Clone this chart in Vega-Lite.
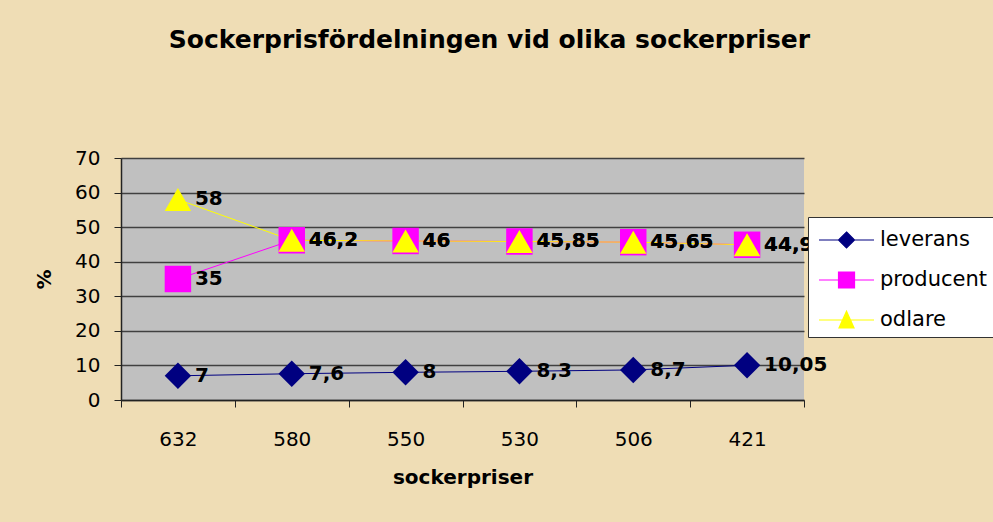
{
  "$schema": "https://vega.github.io/schema/vega-lite/v6.json",
  "autosize": "none",
  "width": 683,
  "height": 242,
  "padding": {"left": 121, "top": 158, "right": 189, "bottom": 122},
  "background": "#EFDDB5",
  "title": {
    "text": "Sockerprisfördelningen vid olika sockerpriser",
    "font": "DejaVu Sans",
    "fontSize": 25,
    "fontWeight": "bold",
    "color": "black",
    "anchor": "middle",
    "dx": 27,
    "offset": 95
  },
  "config": {
    "locale": {"number": {"decimal": ",", "thousands": " ", "grouping": [3], "currency": ["", " kr"]}},
    "view": {"fill": "#C0C0C0", "stroke": null},
    "axis": {"labelFont": "DejaVu Sans", "labelFontSize": 20, "labelColor": "black", "titleFont": "DejaVu Sans", "titleFontSize": 20, "titleFontWeight": "bold", "titleColor": "black", "domainColor": "#222222", "tickColor": "#222222", "gridColor": "#404040", "gridWidth": 1.5},
    "legend": {
      "orient": "none",
      "legendX": 687,
      "legendY": 59,
      "fillColor": "white",
      "strokeColor": "#333333",
      "padding": 6,
      "labelFont": "DejaVu Sans",
      "labelFontSize": 21,
      "labelColor": "black",
      "labelOffset": 32,
      "symbolSize": 1024,
      "symbolStrokeWidth": 1.2,
      "rowPadding": 12
    }
  },
  "resolve": {"scale": {"shape": "independent"}, "legend": {"color": "independent", "shape": "independent", "fill": "independent", "stroke": "independent"}},
  "data": {
    "values": [
      {"pris": "632", "serie": "leverans", "v": 7},
      {"pris": "580", "serie": "leverans", "v": 7.6},
      {"pris": "550", "serie": "leverans", "v": 8},
      {"pris": "530", "serie": "leverans", "v": 8.3},
      {"pris": "506", "serie": "leverans", "v": 8.7},
      {"pris": "421", "serie": "leverans", "v": 10.05},
      {"pris": "632", "serie": "producent", "v": 35},
      {"pris": "580", "serie": "producent", "v": 46.2},
      {"pris": "550", "serie": "producent", "v": 46},
      {"pris": "530", "serie": "producent", "v": 45.85},
      {"pris": "506", "serie": "producent", "v": 45.65},
      {"pris": "421", "serie": "producent", "v": 44.9},
      {"pris": "632", "serie": "odlare", "v": 58},
      {"pris": "580", "serie": "odlare", "v": 46.2},
      {"pris": "550", "serie": "odlare", "v": 46},
      {"pris": "530", "serie": "odlare", "v": 45.85},
      {"pris": "506", "serie": "odlare", "v": 45.65},
      {"pris": "421", "serie": "odlare", "v": 44.9}
    ]
  },
  "encoding": {
    "x": {
      "field": "pris", "type": "nominal", "sort": null,
      "scale": {"type": "band", "paddingInner": 0, "paddingOuter": 0},
      "axis": {"title": "sockerpriser", "labelAngle": 0, "tickBand": "extent", "tickSize": 7, "labelPadding": 22, "titlePadding": 18, "grid": false, "domainWidth": 1.5}
    },
    "y": {
      "field": "v", "type": "quantitative",
      "scale": {"domain": [0, 70]},
      "axis": {"title": "%", "values": [0, 10, 20, 30, 40, 50, 60, 70], "tickSize": 7, "labelPadding": 14, "titlePadding": 20, "grid": true, "domainWidth": 1.5}
    }
  },
  "layer": [
    {
      "mark": {"type": "line", "strokeWidth": 1},
      "encoding": {
        "color": {
          "field": "serie", "type": "nominal",
          "scale": {"domain": ["leverans", "producent", "odlare"], "range": ["#000080", "#FF00FF", "#FFFF00"]},
          "legend": null
        },
        "detail": {"field": "serie"}
      }
    },
    {
      "mark": {"type": "point", "filled": true, "opacity": 1, "size": 700},
      "encoding": {
        "color": {
          "field": "serie", "type": "nominal",
          "scale": {"domain": ["leverans", "producent", "odlare"], "range": ["#000080", "#FF00FF", "#FFFF00"]},
          "legend": null
        },
        "shape": {
          "field": "serie", "type": "nominal",
          "scale": {"domain": ["leverans", "producent", "odlare"], "range": ["diamond", "square", "triangle-up"]},
          "legend": null
        }
      }
    },
    {
      "transform": [{"filter": "false"}],
      "mark": {"type": "point", "opacity": 1, "size": 1024, "strokeWidth": 1.2},
      "encoding": {
        "fill": {
          "field": "serie", "type": "nominal",
          "scale": {"domain": ["leverans", "producent", "odlare"], "range": ["#000080", "#FF00FF", "#FFFF00"]},
          "legend": {"title": null}
        },
        "stroke": {
          "field": "serie", "type": "nominal",
          "scale": {"domain": ["leverans", "producent", "odlare"], "range": ["#000080", "#FF00FF", "#FFFF00"]},
          "legend": {"title": null}
        },
        "shape": {
          "field": "serie", "type": "nominal",
          "scale": {"domain": ["leverans", "producent", "odlare"], "range": ["M-0.75,0L2.69,0M0.97,-0.5L1.47,0L0.97,0.5L0.47,0Z", "M-0.75,0L2.69,0M0.47,-0.5L1.47,-0.5L1.47,0.5L0.47,0.5Z", "M-0.75,0L2.69,0M0.97,-0.55L1.44,0.5L0.5,0.5Z"]},
          "legend": {"title": null}
        }
      }
    },
    {
      "mark": {"type": "text", "align": "left", "baseline": "middle", "dx": 17, "font": "DejaVu Sans", "fontSize": 20, "fontWeight": "bold", "color": "black"},
      "encoding": {
        "text": {"field": "v", "type": "quantitative", "format": "~g"}
      }
    }
  ]
}
